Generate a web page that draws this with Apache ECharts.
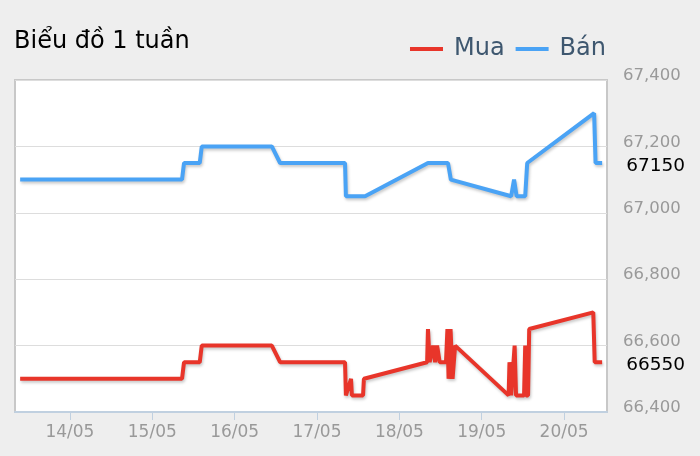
<!DOCTYPE html>
<html>
<head>
<meta charset="utf-8">
<script src="https://cdn.jsdelivr.net/npm/echarts@6/dist/echarts.min.js"></script>
<style>
html,body{margin:0;padding:0;background:#eeeeee;}
#chart{width:700px;height:456px;}
</style>
</head>
<body>
<div id="chart"></div>
<script>
var YEAR = 2023;
var titleText = 'Biểu đồ 1 tuần';
var seriesNames = ['Mua', 'Bán'];
var yTicks = [66400, 66600, 66800, 67000, 67200, 67400];

// Bán (sell)
var sellTimes = ['05-13 09:30','05-15 08:40','05-15 09:15','05-15 13:50','05-15 14:25','05-16 10:50','05-16 13:15',
  '05-17 08:10','05-17 08:25','05-17 14:00','05-18 08:20','05-18 14:10','05-18 15:00','05-19 08:35','05-19 09:25',
  '05-19 10:10','05-19 12:40','05-19 13:15','05-20 08:45','05-20 09:10','05-20 11:05'];
var sellValues = [67100,67100,67150,67150,67200,67200,67150,
  67150,67050,67050,67150,67150,67100,67050,67100,
  67050,67050,67150,67300,67150,67150];

// Mua (buy)
var buyTimes = ['05-13 09:30','05-15 08:40','05-15 09:15','05-15 13:50','05-15 14:25','05-16 10:50','05-16 13:15',
  '05-17 08:10','05-17 08:25','05-17 09:55','05-17 10:10','05-17 13:25','05-17 13:40',
  '05-18 08:05','05-18 08:20','05-18 08:50','05-18 09:50','05-18 10:25','05-18 11:00','05-18 11:45','05-18 13:35',
  '05-18 14:00','05-18 14:20','05-18 14:55','05-18 15:30','05-18 16:15',
  '05-19 07:50','05-19 08:05','05-19 08:35','05-19 09:35','05-19 10:00','05-19 12:20','05-19 12:40','05-19 12:55',
  '05-19 13:30','05-19 13:50','05-20 08:30','05-20 08:55','05-20 11:05'];
var buyValues = [66500,66500,66550,66550,66600,66600,66550,
  66550,66450,66500,66450,66450,66500,
  66550,66650,66550,66600,66550,66600,66550,66550,
  66650,66500,66650,66500,66600,
  66450,66550,66450,66600,66450,66450,66600,66450,
  66450,66650,66700,66550,66550];

function ts(s) {
  var m = s.match(/(\d+)-(\d+) (\d+):(\d+)/);
  return Date.UTC(YEAR, +m[1] - 1, +m[2], +m[3], +m[4]);
}
function pairs(times, vals) {
  return times.map(function (t, i) { return [ts(t), vals[i]]; });
}
function pad(n) { return (n < 10 ? '0' : '') + n; }

var chart = echarts.init(document.getElementById('chart'));
var shadow = { shadowColor: 'rgba(0,0,0,0.22)', shadowBlur: 3, shadowOffsetX: 1, shadowOffsetY: 2 };
function lineSeries(name, data, color) {
  return {
    name: name, type: 'line', data: data, showSymbol: false, symbol: 'none',
    lineStyle: Object.assign({ width: 4, color: color }, shadow),
    itemStyle: { color: color },
    endLabel: {
      show: true, distance: 24, offset: [0, 3], color: '#000', fontSize: 18.5, fontFamily: 'DejaVu Sans',
      formatter: function (p) { return String(p.value[1]); }
    }
  };
}

chart.setOption({
  useUTC: true,
  animation: false,
  backgroundColor: '#eeeeee',
  title: {
    text: titleText, left: 14, top: 30, padding: 0,
    textStyle: { fontSize: 24, fontWeight: 'normal', color: '#000', fontFamily: 'DejaVu Sans' }
  },
  legend: {
    right: 94, top: 37, padding: 0, itemGap: 11, itemWidth: 33, itemHeight: 4, icon: 'rect',
    data: seriesNames,
    textStyle: { fontSize: 24, color: '#3e576f', fontFamily: 'DejaVu Sans', padding: [0, 0, 0, 6] }
  },
  grid: {
    left: 15, right: 93, top: 80, bottom: 44, show: true,
    backgroundColor: '#ffffff', borderColor: '#c8c8c8', borderWidth: 2
  },
  xAxis: {
    type: 'time',
    min: Date.UTC(YEAR, 4, 13, 8, 0),
    max: Date.UTC(YEAR, 4, 20, 12, 30),
    minInterval: 86400000, maxInterval: 86400000,
    axisLine: { show: true, lineStyle: { color: '#c0d0e0', width: 2 } },
    axisTick: { show: true, length: 8, lineStyle: { color: '#c0d0e0', width: 1 } },
    splitLine: { show: false },
    axisLabel: {
      margin: 12, color: '#999999', fontSize: 17, fontFamily: 'DejaVu Sans',
      showMinLabel: false, showMaxLabel: false,
      formatter: function (v) { var d = new Date(v); return pad(d.getUTCDate()) + '/' + pad(d.getUTCMonth() + 1); }
    }
  },
  yAxis: {
    type: 'value', position: 'right',
    min: yTicks[0], max: yTicks[yTicks.length - 1], interval: yTicks[1] - yTicks[0],
    axisLine: { show: false }, axisTick: { show: false },
    splitLine: { show: true, lineStyle: { color: '#dddddd', width: 1 } },
    axisLabel: {
      margin: 16, color: '#999999', fontSize: 16.5, fontFamily: 'DejaVu Sans', align: 'left',
      verticalAlign: 'bottom', lineHeight: 8,
      formatter: function (v) { return String(v).replace(/(\d{2})(\d{3})$/, '$1,$2'); }
    }
  },
  series: [
    lineSeries(seriesNames[0], pairs(buyTimes, buyValues), '#e8352a'),
    lineSeries(seriesNames[1], pairs(sellTimes, sellValues), '#4aa3f5')
  ]
});
</script>
</body>
</html>
